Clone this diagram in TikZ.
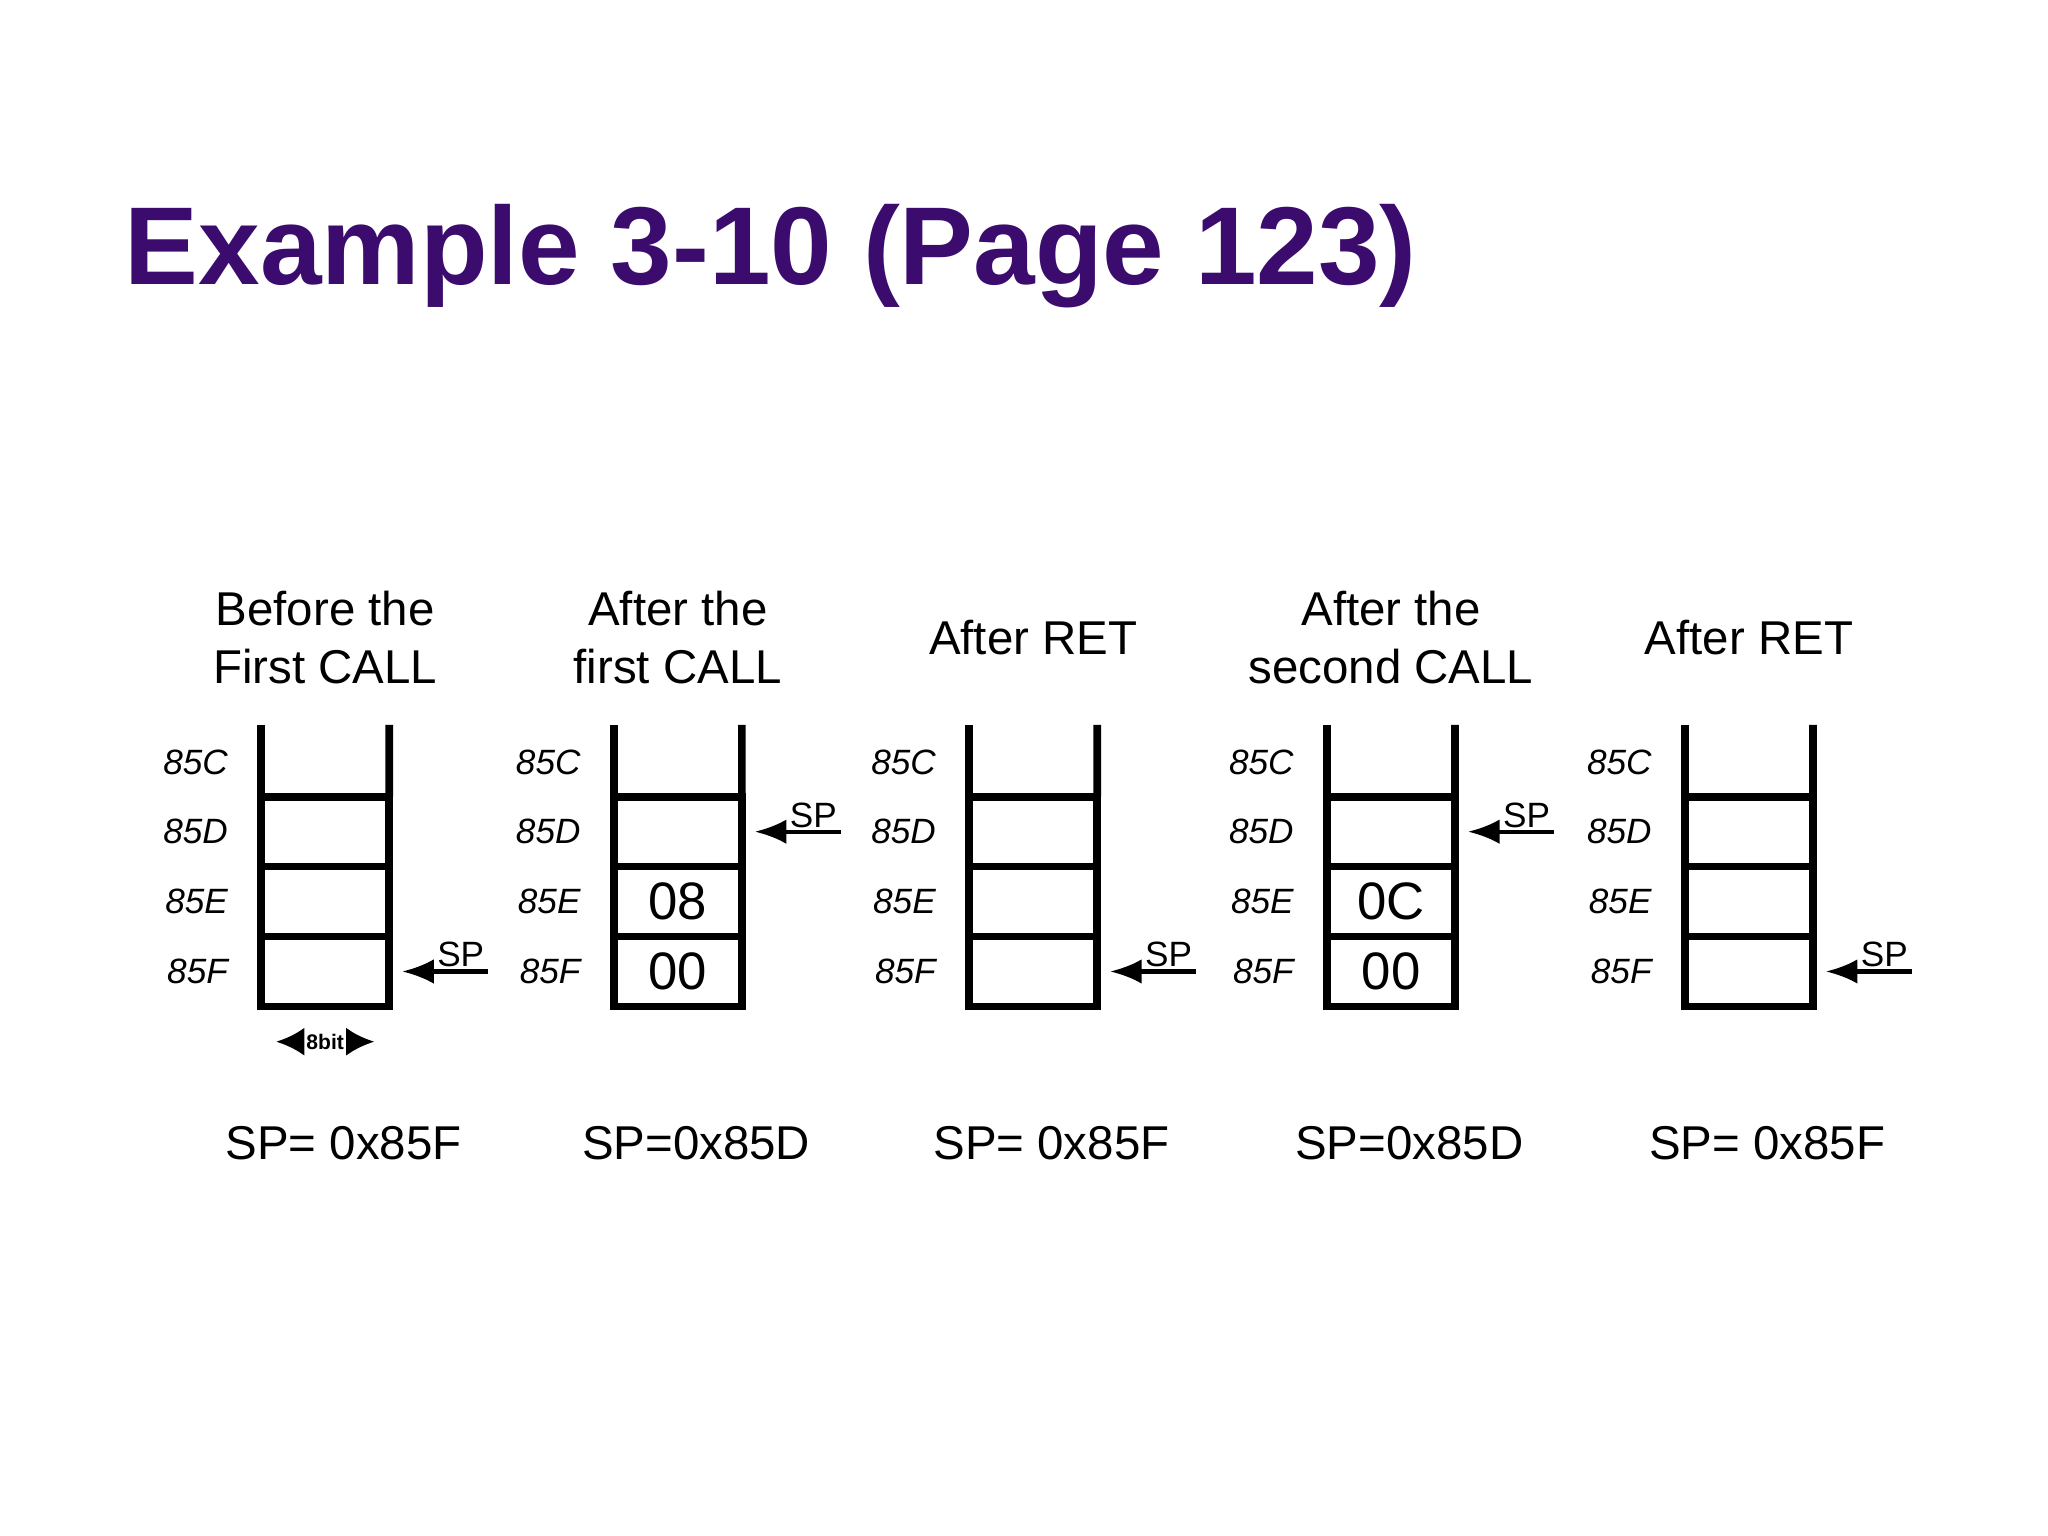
\documentclass[tikz,border=0pt]{standalone}
\usepackage{fontspec}
\setmainfont{Liberation Sans}
\usetikzlibrary{arrows.meta, positioning, calc}
\definecolor{titlepurple}{HTML}{3B0C6E}
\begin{document}
\begin{tikzpicture}[
    x=0.01306cm, y=-0.01306cm,
    cell/.style={draw, line width=2.2pt, outer sep=0pt, minimum width=1.28cm, minimum height=0.699cm, inner sep=0pt, font=\fontsize{15}{17}\selectfont},
    addr/.style={font=\itshape\fontsize{10}{12}\selectfont, left=0.21cm},
    head/.style={align=center, font=\fontsize{13.5}{16.5}\selectfont},
    spval/.style={font=\fontsize{13.5}{16}\selectfont},
    sptag/.style={font=\fontsize{10}{12}\selectfont, inner sep=1pt},
    sparrow/.style={-{Latex[length=9pt,width=7pt]}, line width=1.2pt}
]
\useasboundingbox (0,0) rectangle (1568,1176);
% Title
\node[anchor=base west, text=titlepurple, font=\bfseries\fontsize{31.5}{36}\selectfont] (title) at (86,218) {Example 3-10 (Page 123)};

% Stacks
\foreach \i/\x/\hd/\ve/\vf/\sprow/\spv in {
    1/200/{Before the\\First CALL}/{}/{}/4/{SP= 0x85F},
    2/470/{After the\\first CALL}/08/00/2/{SP=0x85D},
    3/742/{After RET}/{}/{}/4/{SP= 0x85F},
    4/1016/{After the\\second CALL}/0C/00/2/{SP=0x85D},
    5/1290/{After RET}/{}/{}/4/{SP= 0x85F}} {
  \node[cell, anchor=north west] (s\i c1) at (\x,610) {};
  \node[cell, below=0pt of s\i c1] (s\i c2) {\ve};
  \node[cell, below=0pt of s\i c2] (s\i c3) {\vf};
  \coordinate (s\i tl) at (\x,555);
  \coordinate (s\i tr) at (\x+98,555);
  \draw[line width=2.2pt] (s\i tl) -- (s\i c1.north west);
  \draw[line width=2.2pt] (s\i tr) -- (s\i c1.north east);
  \node[addr] (a\i 1) at ($(s\i c1.west)+(0,-53)$) {85C};
  \node[addr] (a\i 2) at (s\i c1.west) {85D};
  \node[addr] (a\i 3) at (s\i c2.west) {85E};
  \node[addr] (a\i 4) at (s\i c3.west) {85F};
  \node[head] (h\i) at ($(s\i tl)!0.5!(s\i tr)+(0,-67)$) {\hd};
  \node[spval] (v\i) at ($(s\i tl)!0.5!(s\i tr)+(14,320)$) {\spv};
  \coordinate (p\i) at ($(a\i \sprow.east)+(190,0)$);
  \draw[sparrow] (p\i) -- ($(a\i \sprow.east)+(124,0)$);
  \node[sptag, anchor=south east] (t\i) at (p\i) {SP};
}
% 8bit width marker
\node[font=\bfseries\fontsize{6}{7}\selectfont, inner sep=1pt] (bits) at ($(s1c3.south)+(0,27)$) {8bit};
\draw[-{Latex[length=8pt,width=8pt]}, line width=1.2pt] (bits.east) -- ++(20,0);
\draw[-{Latex[length=8pt,width=8pt]}, line width=1.2pt] (bits.west) -- ++(-20,0);
\end{tikzpicture}
\end{document}
